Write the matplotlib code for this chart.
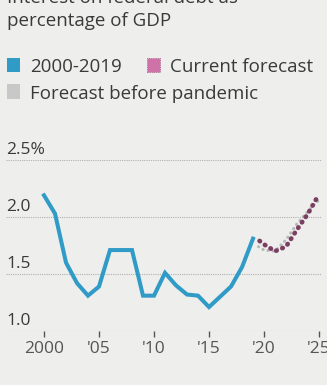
import matplotlib
matplotlib.use("Agg")
from matplotlib import pyplot as plt
from matplotlib.patches import Rectangle
from matplotlib.transforms import blended_transform_factory

# interest on federal debt, % of GDP
years_hist = [2000, 2001, 2002, 2003, 2004, 2005, 2006, 2007, 2008, 2009,
              2010, 2011, 2012, 2013, 2014, 2015, 2016, 2017, 2018, 2019]
hist = [2.19, 2.03, 1.60, 1.42, 1.31, 1.39, 1.71, 1.71, 1.71, 1.31,
        1.31, 1.51, 1.40, 1.32, 1.31, 1.21, 1.30, 1.39, 1.56, 1.81]

years_fc = [2019.6, 2020, 2021, 2022, 2023, 2024, 2025]
current = [1.79, 1.76, 1.70, 1.74, 1.89, 2.03, 2.20]

years_old = [2019.5, 2020, 2021, 2022, 2023, 2024, 2025]
before = [1.74, 1.71, 1.70, 1.80, 1.94, 2.05, 2.15]

yticks = [1.0, 1.5, 2.0, 2.5]
ylabels = ["1.0", "1.5", "2.0", "2.5%"]
xticks = [2000, 2005, 2010, 2015, 2020, 2025]
xlabels = ["2000", "'05", "'10", "'15", "'20", "'25"]

bg = "#eeeeec"
blue = "#2f9bc6"
pink = "#cf72a8"
purple = "#7b3f62"
grey_dot = "#b9b9b9"
txt = "#3a3a3a"

plt.rcParams["font.family"] = ["Open Sans", "DejaVu Sans"]

W, H = 327, 385
fig = plt.figure(figsize=(W / 100, H / 100), dpi=100, facecolor=bg)

def fx(px):
    return px / W

def fy(py):
    return 1 - py / H

# title, first line runs off the top
fig.text(fx(7), fy(3), "Interest on federal debt as", fontsize=13.5, color=txt, va="baseline")
fig.text(fx(7), fy(26), "percentage of GDP", fontsize=13.5, color=txt, va="baseline")

# legend
fig.add_artist(Rectangle((fx(7), fy(72)), fx(13), 14 / H, transform=fig.transFigure,
                         facecolor=blue, edgecolor="none"))
fig.text(fx(30), fy(72), "2000-2019", fontsize=13.5, color=txt, va="baseline")
fig.add_artist(Rectangle((fx(147), fy(72)), fx(13), 14 / H, transform=fig.transFigure,
                         facecolor=pink, edgecolor="#9a5a80", lw=0.6, ls=":"))
fig.text(fx(170), fy(72), "Current forecast", fontsize=13.5, color=txt, va="baseline")
fig.add_artist(Rectangle((fx(7), fy(99)), fx(13), 15 / H, transform=fig.transFigure,
                         facecolor="#c8c8c8", edgecolor="none"))
fig.text(fx(30), fy(99), "Forecast before pandemic", fontsize=13.5, color=txt, va="baseline")

# plot area
left, right, top, bottom = 6, 322, 160, 331
ax = fig.add_axes([fx(left), fy(bottom), fx(right - left), (bottom - top) / H])
ax.set_facecolor("none")
x0 = 2000 - (44 - left) / 11
ax.set_xlim(x0, x0 + (right - left) / 11)
ax.set_ylim(1.0, 2.5)
for s in ax.spines.values():
    s.set_visible(False)

for v in yticks:
    ax.axhline(v, color="#b0b0b0", lw=0.8, ls=(0, (1, 1)), zorder=1)

# value labels sit just above their grid line
trans = blended_transform_factory(ax.transAxes, ax.transData)
for v, lab in zip(yticks, ylabels):
    ax.text(0, v + 0.02, lab, transform=trans, fontsize=12.5, color=txt,
            va="bottom", ha="left")

ax.set_yticks([])
ax.set_xticks(xticks)
ax.set_xticklabels(xlabels, fontsize=12.5, color="#555555")
ax.tick_params(axis="x", length=4, width=1, color="#555555", pad=3)

ax.plot(years_old, before, color=grey_dot, lw=2.2, ls=(0, (0.1, 1.6)),
        dash_capstyle="round", zorder=2, clip_on=False)
ax.plot(years_fc, current, color=purple, lw=3.4, ls=(0, (0.1, 1.3)),
        dash_capstyle="round", zorder=3, clip_on=False)
ax.plot(years_hist, hist, color=blue, lw=2.9, solid_joinstyle="miter",
        zorder=4, clip_on=False)

fig.savefig("out.png", dpi=100, facecolor=bg)
